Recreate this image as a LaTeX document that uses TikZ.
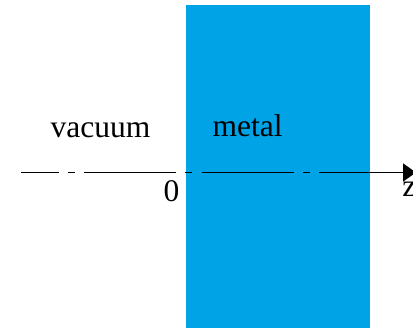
\documentclass[tikz,border=0pt]{standalone}
\usepackage{fontspec}
\setmainfont{Liberation Serif}
\usetikzlibrary{arrows.meta}
\definecolor{metalblue}{RGB}{0,163,230}
\tikzset{
  >={Triangle[length=13pt,width=18pt]},
  lbl/.style={inner sep=0pt,anchor=base,font=\fontsize{31.5}{36}\selectfont},
  axis/.style={line width=1.5pt,dash pattern=on 92pt off 9pt on 7pt off 9.5pt,dash phase=54.5pt},
  every picture/.style={line width=0.5pt},
}
\begin{document}
\begin{tikzpicture}[x=1pt,y=-1pt]
\useasboundingbox (0,0) rectangle (413,328);
\fill[metalblue] (186,5) rectangle (370,330);
\node[lbl] (vac) at (100.5,138){vacuum}; \node[lbl] (met) at (247.5,137){metal};
\node[lbl] (zero) at (171.5,202){0}; \node[lbl,anchor=base west] (zlab) at (402,197){z};
\coordinate (zstart) at (21,172.5); \coordinate (zend) at (416,172.5);
\draw[axis,->] (zstart)--(zend);
\end{tikzpicture}
\end{document}
